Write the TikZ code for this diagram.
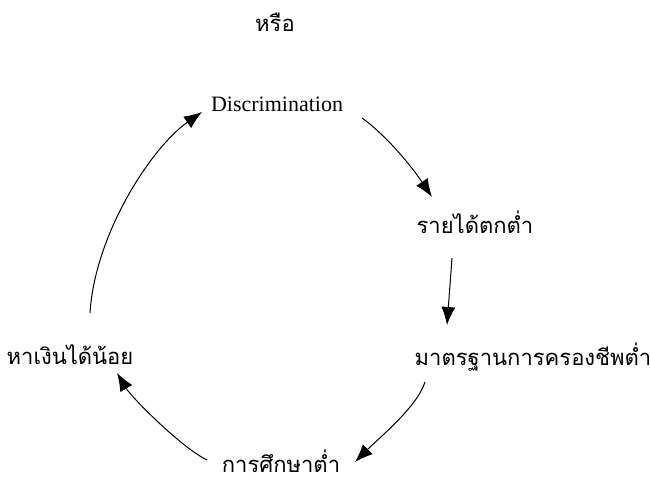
\documentclass[tikz,border=0pt]{standalone}
\usepackage{fontspec}
\setmainfont{Liberation Serif}
\newfontfamily\thaifont[Script=Thai]{Loma}
\usetikzlibrary{positioning, calc, arrows.meta}

\begin{document}
\begin{tikzpicture}[x=1pt, y=-1pt,
    lbl/.style={inner sep=0pt, font=\fontsize{22}{25}\selectfont},
    thlbl/.style={inner sep=0pt, font=\thaifont\fontsize{22}{26}\selectfont},
    arr/.style={-{Latex[length=18pt, width=14pt]}, line width=1pt}]
    \useasboundingbox (0,0) rectangle (650,481);

    % Labels
    \node[thlbl] (or) at (275,22) {หรือ};
    \node[lbl] (disc) at (277,104) {Discrimination};
    \node[thlbl] (income) at (475,222) {รายได้ตกต่ำ};
    \node[thlbl] (living) at (533,357) {มาตรฐานการครองชีพต่ำ};
    \node[thlbl] (edu) at (281,461) {การศึกษาต่ำ};
    \node[thlbl] (earn) at (70,355) {หาเงินได้น้อย};

    % Cycle
    \draw[arr] ([shift={(85,14)}]disc.center)
        .. controls +(25,18) and +(-20,-30) .. ([shift={(-43,-25)}]income.center);
    \draw[arr] ([shift={(-23,36)}]income.center) -- ([shift={(-86,-32)}]living.center);
    \draw[arr] ([shift={(-108,25)}]living.center)
        .. controls +(-8,25) and +(25,-25) .. ([shift={(74,1)}]edu.center);
    \draw[arr] ([shift={(-74,-1)}]edu.center)
        .. controls +(-25,-12) and +(15,25) .. ([shift={(47,18)}]earn.center);
    \draw[arr] ([shift={(20,-42)}]earn.center)
        .. controls +(5,-80) and +(-50,35) .. ([shift={(-75,8)}]disc.center);
\end{tikzpicture}
\end{document}
